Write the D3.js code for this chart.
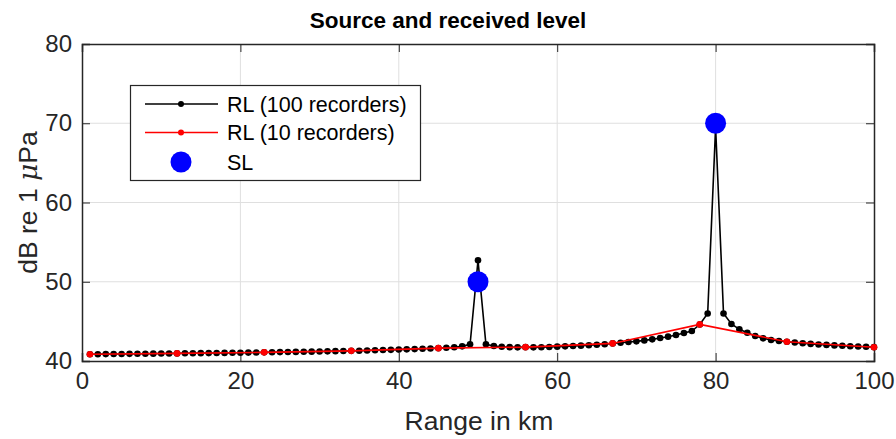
<!DOCTYPE html>
<html>
<head>
<meta charset="utf-8">
<script src="https://cdn.jsdelivr.net/npm/d3@7"></script>
<style>
  body { margin: 0; background: #fff; }
  svg { display: block; font-family: "Liberation Sans", Arial, Helvetica, sans-serif; }
</style>
</head>
<body>
<svg id="chart" width="896" height="439"></svg>
<script>
// Received level at 100 recorders, ranges 1..100 km
const rangeDense = d3.range(1, 101);
const rlDense = [
  40.85, 40.86, 40.87, 40.88, 40.89, 40.90, 40.91, 40.92, 40.93, 40.94,
  40.95, 40.96, 40.97, 40.98, 40.99, 41.00, 41.01, 41.02, 41.04, 41.05,
  41.06, 41.08, 41.09, 41.10, 41.12, 41.13, 41.15, 41.17, 41.18, 41.20,
  41.22, 41.24, 41.26, 41.28, 41.30, 41.33, 41.35, 41.38, 41.41, 41.44,
  41.47, 41.50, 41.54, 41.58, 41.62, 41.67, 41.73, 41.85, 42.10, 52.70,
  42.10, 41.90, 41.80, 41.75, 41.72, 41.75, 41.72, 41.74, 41.77, 41.81,
  41.85, 41.89, 41.94, 41.99, 42.05, 42.12, 42.22, 42.31, 42.40, 42.48,
  42.60, 42.73, 42.90, 43.07, 43.28, 43.53, 43.78, 44.60, 46.00, 69.50,
  46.00, 44.67, 44.00, 43.57, 43.15, 42.86, 42.65, 42.53, 42.43, 42.33,
  42.24, 42.16, 42.09, 42.03, 41.97, 41.92, 41.87, 41.83, 41.79, 41.75
];

// Received level at 10 recorders
const rangeSparse = [1, 12, 23, 34, 45, 56, 67, 78, 89, 100];
const rlSparse = [40.85, 40.96, 41.09, 41.28, 41.62, 41.75, 42.22, 44.62, 42.43, 41.73];

// Source levels
const sourceRange = [50, 80];
const sourceLevel = [50, 70];

const xTicks = [0, 20, 40, 60, 80, 100];
const yTicks = [40, 50, 60, 70, 80];

const svg = d3.select("#chart");
const m = { left: 82, right: 874, top: 44, bottom: 361 };
const axisColor = "#262626";

const x = d3.scaleLinear().domain([0, 100]).range([m.left, m.right]);
const y = d3.scaleLinear().domain([40, 80]).range([m.bottom, m.top]);

// grid
const grid = svg.append("g");
grid.selectAll(".gx").data(xTicks.slice(1, -1)).join("line")
  .attr("x1", d => x(d)).attr("x2", d => x(d))
  .attr("y1", m.top).attr("y2", m.bottom)
  .attr("stroke", "#dfdfdf").attr("stroke-width", 1);
grid.selectAll(".gy").data(yTicks.slice(1, -1)).join("line")
  .attr("x1", m.left).attr("x2", m.right)
  .attr("y1", d => y(d)).attr("y2", d => y(d))
  .attr("stroke", "#dfdfdf").attr("stroke-width", 1);

// axes (inward ticks, boxed)
const tickLen = 8;
const axB = svg.append("g").attr("transform", `translate(0,${m.bottom})`)
  .call(d3.axisBottom(x).tickValues(xTicks).tickSize(-tickLen).tickPadding(11));
const axT = svg.append("g").attr("transform", `translate(0,${m.top})`)
  .call(d3.axisTop(x).tickValues(xTicks).tickSize(-tickLen).tickFormat(""));
const axL = svg.append("g").attr("transform", `translate(${m.left},0)`)
  .call(d3.axisLeft(y).tickValues(yTicks).tickSize(-tickLen).tickPadding(10));
const axR = svg.append("g").attr("transform", `translate(${m.right},0)`)
  .call(d3.axisRight(y).tickValues(yTicks).tickSize(-tickLen).tickFormat(""));
[axB, axT, axL, axR].forEach(a => {
  a.select(".domain").attr("stroke", axisColor).attr("stroke-width", 1.5);
  a.selectAll(".tick line").attr("stroke", axisColor).attr("stroke-width", 1);
  a.selectAll(".tick text").attr("fill", axisColor)
    .style("font-size", "24px").style("font-family", "'Liberation Sans', Arial, sans-serif");
});
axB.selectAll(".tick text").attr("dy", "0.72em");

const line = d3.line().x(d => x(d[0])).y(d => y(d[1]));

// 100 recorders
const dense = rangeDense.map((r, i) => [r, rlDense[i]]);
svg.append("path").datum(dense).attr("d", line)
  .attr("fill", "none").attr("stroke", "#000").attr("stroke-width", 1.6);
svg.append("g").selectAll("circle").data(dense).join("circle")
  .attr("cx", d => x(d[0])).attr("cy", d => y(d[1])).attr("r", 3.3).attr("fill", "#000");

// 10 recorders
const sparse = rangeSparse.map((r, i) => [r, rlSparse[i]]);
svg.append("path").datum(sparse).attr("d", line)
  .attr("fill", "none").attr("stroke", "#ff0000").attr("stroke-width", 1.6);
svg.append("g").selectAll("circle").data(sparse).join("circle")
  .attr("cx", d => x(d[0])).attr("cy", d => y(d[1])).attr("r", 3.3).attr("fill", "#ff0000");

// source levels
svg.append("g").selectAll("circle").data(sourceRange.map((r, i) => [r, sourceLevel[i]])).join("circle")
  .attr("cx", d => x(d[0])).attr("cy", d => y(d[1])).attr("r", 10.5).attr("fill", "#0000ff");

// title and labels
svg.append("text").attr("x", 448).attr("y", 28)
  .attr("text-anchor", "middle").attr("font-weight", "bold").attr("font-size", 22.5)
  .attr("fill", "#000").text("Source and received level");
svg.append("text").attr("x", (m.left + m.right) / 2 + 1).attr("y", 430)
  .attr("text-anchor", "middle").attr("font-size", 26.5).attr("fill", axisColor)
  .text("Range in km");
const yl = svg.append("text").attr("transform", `translate(37,${(m.top + m.bottom) / 2}) rotate(-90)`)
  .attr("text-anchor", "middle").attr("font-size", 26.5).attr("fill", axisColor);
yl.append("tspan").text("dB re 1 ");
yl.append("tspan").attr("font-style", "italic").attr("font-family", "'DejaVu Serif', 'Liberation Serif', serif").text("μ");
yl.append("tspan").text("Pa");

// legend
const lg = svg.append("g");
lg.append("rect").attr("x", 130.5).attr("y", 85.5).attr("width", 290).attr("height", 95)
  .attr("fill", "#fff").attr("stroke", axisColor).attr("stroke-width", 1.2);
const items = [
  { label: "RL (100 recorders)", color: "#000", type: "line" },
  { label: "RL (10 recorders)", color: "#ff0000", type: "line" },
  { label: "SL", color: "#0000ff", type: "dot" }
];
const rowY = [104, 132.5, 162];
items.forEach((it, i) => {
  const cy = rowY[i];
  if (it.type === "line") {
    lg.append("line").attr("x1", 145).attr("x2", 218).attr("y1", cy).attr("y2", cy)
      .attr("stroke", it.color).attr("stroke-width", 1.6);
    lg.append("circle").attr("cx", 181).attr("cy", cy).attr("r", 3).attr("fill", it.color);
  } else {
    lg.append("circle").attr("cx", 181).attr("cy", cy).attr("r", 10.5).attr("fill", it.color);
  }
  lg.append("text").attr("x", 227).attr("y", cy).attr("dy", "0.36em")
    .attr("font-size", 21.5).attr("fill", "#000").text(it.label);
});
</script>
</body>
</html>
